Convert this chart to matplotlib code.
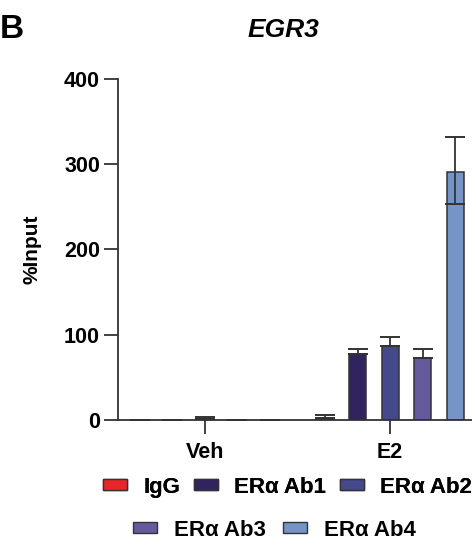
import numpy as np
import matplotlib.pyplot as plt
from matplotlib.patches import Patch

plt.rcParams['font.family'] = ['Liberation Sans', 'DejaVu Sans']
plt.rcParams['font.weight'] = 'bold'

groups = ["Veh", "E2"]
series = ["IgG", "ERα Ab1", "ERα Ab2", "ERα Ab3", "ERα Ab4"]
colors = ["#e8262a", "#30235e", "#46488c", "#655a9e", "#7694c6"]
# values[series][group]
values = [[0.3, 2.5],
          [0.4, 77],
          [0.6, 87],
          [0.4, 73],
          [0.2, 291]]
err_lo = [[0, 0],
          [0, 0],
          [0, 0],
          [0, 0],
          [0, 38]]
err_hi = [[0, 3],
          [0, 6],
          [2.5, 10],
          [0, 10],
          [0, 41]]

fig = plt.figure(figsize=(4.72, 5.41), dpi=100)
ax = fig.add_axes([0.25, 0.2237, 0.7606, 0.6303])

x = np.arange(len(groups))
step = 0.1757
width = 0.092
for i, s in enumerate(series):
    pos = x + (i - 2) * step
    ax.bar(pos, values[i], width, color=colors[i], edgecolor="#333333", linewidth=1.1, zorder=2)
    ax.errorbar(pos, values[i], yerr=[err_lo[i], err_hi[i]], fmt="none", ecolor="#333333",
                elinewidth=1.3, capsize=7, capthick=1.4, zorder=3)

ax.set_xlim(-0.47, 1.47)
ax.set_ylim(0, 400)
ax.set_yticks([0, 100, 200, 300, 400])
ax.set_xticks(x)
ax.set_xticklabels(groups)
ax.spines['top'].set_visible(False)
ax.spines['right'].set_visible(False)
for sp in ['left', 'bottom']:
    ax.spines[sp].set_color("#333333")
    ax.spines[sp].set_linewidth(1.3)
ax.tick_params(axis='both', length=10, width=1.3, color="#333333", labelsize=15.5, pad=3)
ax.tick_params(axis='x', pad=6)
ax.set_ylabel("%Input", fontsize=15, fontweight='bold', labelpad=16)

fig.text(0.60, 0.945, "EGR3", fontsize=19, fontweight='bold', style='italic', ha='center', va='center')
fig.text(0.0, 0.945, "B", fontsize=24, fontweight='bold', ha='left', va='center')

handles = [Patch(facecolor=c, edgecolor="#333333", linewidth=1.0) for c in colors]
leg_kw = dict(frameon=False, fontsize=16, handlelength=1.08, handleheight=0.36,
              handletextpad=0.75, borderpad=0, borderaxespad=0)
leg1 = fig.legend(handles[:3], series[:3], loc='center left', bbox_to_anchor=(0.218, 0.0998),
                  ncol=3, columnspacing=0.6, **leg_kw)
fig.add_artist(leg1)
fig.legend(handles[3:], series[3:], loc='center left', bbox_to_anchor=(0.282, 0.0203),
           ncol=2, columnspacing=0.8, **leg_kw)

fig.savefig("out.png", dpi=100)
